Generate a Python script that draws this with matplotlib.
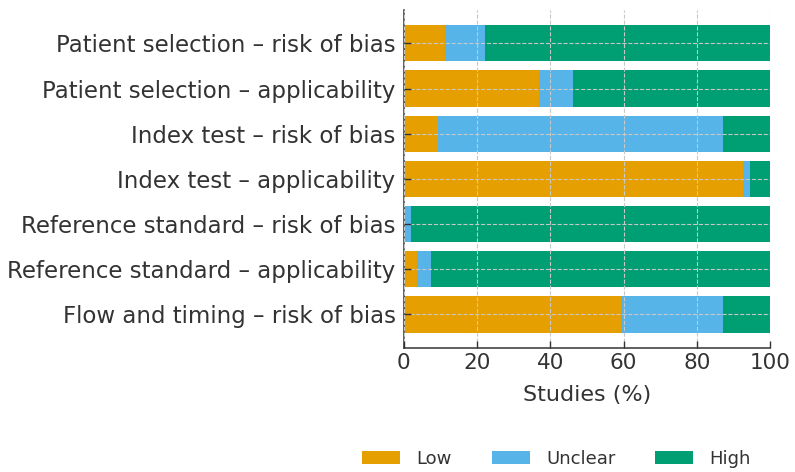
import matplotlib.pyplot as plt
import numpy as np

# ============================================================
# Data (percent of studies)
# ============================================================
domains = [
    "Patient selection – risk of bias",
    "Patient selection – applicability",
    "Index test – risk of bias",
    "Index test – applicability",
    "Reference standard – risk of bias",
    "Reference standard – applicability",
    "Flow and timing – risk of bias",
]
low = [11.1, 37.0, 9.3, 92.6, 0.0, 3.7, 59.3]
unclear = [11.1, 9.3, 77.8, 1.9, 1.9, 3.7, 27.8]
high = [77.8, 53.7, 13.0, 5.5, 98.1, 92.6, 12.9]

colors = {"Low": "#E69F00", "Unclear": "#56B4E9", "High": "#009E73"}
text_color = "#333333"

plt.rcParams.update({
    "font.family": "DejaVu Sans",
    "font.size": 14,
    "text.color": text_color,
    "axes.labelcolor": text_color,
    "xtick.color": text_color,
    "ytick.color": text_color,
})

# ============================================================
# Plot
# ============================================================
fig = plt.figure(figsize=(7.95, 4.72), dpi=100)
ax = fig.add_axes([0.508, 0.263, 0.4606, 0.716])

y = np.arange(len(domains))
low_a = np.array(low)
unc_a = np.array(unclear)
high_a = np.array(high)

ax.barh(y, low_a, height=0.8, color=colors["Low"], label="Low")
ax.barh(y, unc_a, left=low_a, height=0.8, color=colors["Unclear"], label="Unclear")
ax.barh(y, high_a, left=low_a + unc_a, height=0.8, color=colors["High"], label="High")

ax.set_yticks(y)
ax.set_yticklabels(domains)
ax.invert_yaxis()
ax.set_xlim(0, 100)
ax.set_xticks(np.arange(0, 101, 20))
ax.set_xlabel("Studies (%)", fontsize=16, labelpad=9)

ax.tick_params(direction="in", length=5, width=1.0)
ax.tick_params(axis="y", labelsize=16.5, pad=6)
ax.tick_params(axis="x", labelsize=15.5)
ax.grid(True, linestyle="--", color="#c8c8c8", linewidth=0.8)
ax.set_axisbelow(False)

for side in ["top", "right"]:
    ax.spines[side].set_visible(False)
for side in ["left", "bottom"]:
    ax.spines[side].set_color("#444444")
    ax.spines[side].set_linewidth(1.2)

fig.legend(
    loc="center",
    bbox_to_anchor=(0.70, 0.028),
    ncol=3,
    frameon=False,
    fontsize=13,
    handlelength=2.1,
    handleheight=0.72,
    handletextpad=0.9,
    columnspacing=2.2,
)

plt.savefig("out.png", dpi=100)
